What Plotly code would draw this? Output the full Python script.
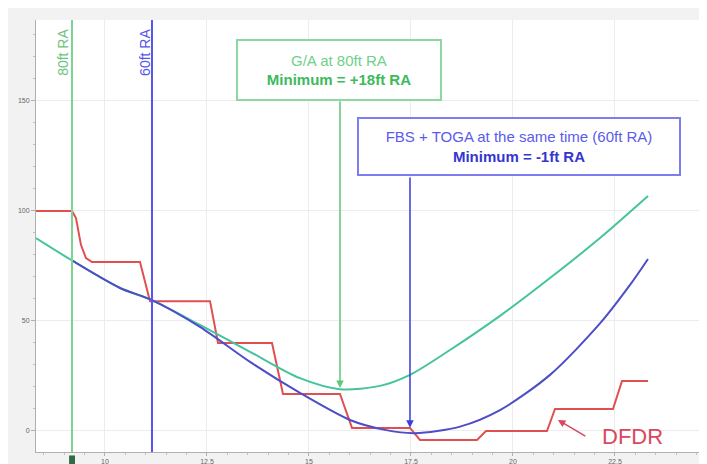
import plotly.graph_objects as go

# ---- data ----
ga80_x = [8.309, 9.191, 10.368, 11.152, 12.328, 13.554, 14.779, 15.760, 16.740,
          17.475, 18.456, 19.681, 20.907, 22.132, 23.309]
ga80_y = [87.7, 77.5, 65.0, 59.5, 48.2, 36.0, 24.0, 19.0, 20.5,
          25.5, 36.8, 52.3, 69.5, 87.7, 106.8]

fbs_x = [9.191, 10.368, 11.152, 12.328, 13.554, 14.779, 16.005, 16.863, 17.598,
         18.701, 19.681, 20.907, 22.132, 22.868, 23.309]
fbs_y = [77.5, 65.0, 59.5, 47.3, 31.4, 17.3, 5.0, 0.5, -1.0,
         2.0, 9.5, 25.5, 48.9, 66.4, 78.2]

dfdr_x = [8.309, 9.191, 9.289, 9.412, 9.534, 9.681, 10.858, 11.103, 12.574, 12.770,
          14.093, 14.363, 15.760, 16.054, 17.475, 17.721, 19.118, 19.338, 20.833,
          21.029, 22.451, 22.672, 23.309]
dfdr_y = [100, 100, 96.8, 84.5, 78.6, 76.8, 76.8, 59.0, 59.0, 40.0,
          40.0, 16.8, 16.8, 1.4, 1.4, -4.1, -4.1, 0, 0,
          10.0, 10.0, 22.7, 22.7]

ra80_x = 9.191
ra60_x = 11.152
ga80_min = (15.76, 19.5)
fbs_min = (17.475, 1.5)

x_tickvals = [7.5, 10, 12.5, 15, 17.5, 20, 22.5, 25]
x_ticktext = ["7.5", "10", "12.5", "15", "17.5", "20", "22.5", "25"]
y_tickvals = [0, 50, 100, 150]
y_ticktext = ["0", "50", "100", "150"]

FONT = "Liberation Sans, Arial, sans-serif"
TEAL = "#45c49c"
BLUE = "#4d4dc8"
RED = "#e05050"
GREEN_V = "#7dd38f"
BLUE_V = "#5656ee"

fig = go.Figure()
fig.add_trace(go.Scatter(x=dfdr_x, y=dfdr_y, mode="lines", line=dict(color=RED, width=2), name="DFDR"))
fig.add_trace(go.Scatter(x=ga80_x, y=ga80_y, mode="lines", line=dict(color=TEAL, width=2, shape="spline", smoothing=0.8), name="G/A 80ft"))
fig.add_trace(go.Scatter(x=fbs_x, y=fbs_y, mode="lines", line=dict(color=BLUE, width=2, shape="spline", smoothing=0.8), name="FBS+TOGA 60ft"))

# vertical RA lines
fig.add_shape(type="line", xref="x", yref="paper", x0=ra80_x, x1=ra80_x, y0=0, y1=1,
              line=dict(color=GREEN_V, width=2))
fig.add_shape(type="line", xref="x", yref="paper", x0=ra60_x, x1=ra60_x, y0=0, y1=1,
              line=dict(color=BLUE_V, width=2))
# small marker on x axis
fig.add_shape(type="rect", xref="x", yref="paper", x0=9.12, x1=9.265, y0=-0.03, y1=-0.008,
              fillcolor="#2f6b45", line=dict(width=0))

ann = []
ann.append(dict(x=8.97, y=172.3, xref="x", yref="y", text="80ft RA", showarrow=False,
                textangle=-90, font=dict(family=FONT, size=14, color="#6cc47e")))
ann.append(dict(x=10.98, y=172.3, xref="x", yref="y", text="60ft RA", showarrow=False,
                textangle=-90, font=dict(family=FONT, size=14, color=BLUE_V)))

# arrows
ann.append(dict(x=ga80_min[0], y=ga80_min[1], ax=ga80_min[0], ay=150.5, xref="x", yref="y",
                axref="x", ayref="y", text="", showarrow=True, arrowhead=2, arrowsize=1,
                arrowwidth=1.5, arrowcolor="#5cc878"))
ann.append(dict(x=fbs_min[0], y=fbs_min[1], ax=fbs_min[0], ay=115.9, xref="x", yref="y",
                axref="x", ayref="y", text="", showarrow=True, arrowhead=2, arrowsize=1,
                arrowwidth=1.5, arrowcolor="#3d3de0"))
ann.append(dict(x=21.10, y=5.0, ax=21.81, ay=-2.7, xref="x", yref="y",
                axref="x", ayref="y", text="", showarrow=True, arrowhead=2, arrowsize=1,
                arrowwidth=1.5, arrowcolor="#d9485e"))

# boxes
ann.append(dict(x=15.735, y=164.1, xref="x", yref="y", showarrow=False,
                text="<span style='color:#6fcf8c'>G/A at 80ft RA</span><br><b style='color:#3cba5c'>Minimum = +18ft RA</b>",
                font=dict(family=FONT, size=15), bgcolor="white", bordercolor="#8ad9a2",
                borderwidth=2, borderpad=2, width=198, height=54))
ann.append(dict(x=20.147, y=129.1, xref="x", yref="y", showarrow=False,
                text="<span style='color:#5b5bea'>FBS + TOGA at the same time (60ft RA)</span><br><b style='color:#3535cf'>Minimum = -1ft RA</b>",
                font=dict(family=FONT, size=15), bgcolor="white", bordercolor="#7d7df0",
                borderwidth=2, borderpad=2, width=316, height=51))

ann.append(dict(x=22.94, y=-2.7, xref="x", yref="y", text="DFDR", showarrow=False,
                font=dict(family=FONT, size=22, color="#d9485e")))

# the page body adds an 8px offset; margins compensate for it
fig.update_layout(
    width=707, height=464,
    margin=dict(l=28, r=12, t=12, b=20),
    paper_bgcolor="#f2f2f2", plot_bgcolor="white",
    showlegend=False,
    annotations=ann,
    font=dict(family=FONT),
)
fig.update_xaxes(range=[8.309, 24.657], tickvals=x_tickvals, ticktext=x_ticktext,
                 automargin=False,
                 showgrid=True, gridcolor="#ececec", gridwidth=1, zeroline=False,
                 showline=True, linecolor="#b0b0b0", linewidth=1,
                 ticks="outside", ticklen=3, tickcolor="#b0b0b0",
                 tickfont=dict(size=7, color="#666"),
                 minor=dict(dtick=0.5, ticks="outside", ticklen=2, tickcolor="#c0c0c0", showgrid=False))
fig.update_yaxes(range=[-9.55, 186.8], tickvals=y_tickvals, ticktext=y_ticktext,
                 automargin=False,
                 showgrid=True, gridcolor="#ececec", gridwidth=1, zeroline=False,
                 showline=True, linecolor="#b0b0b0", linewidth=1,
                 ticks="outside", ticklen=4, tickcolor="#b0b0b0",
                 tickfont=dict(size=7, color="#666"),
                 minor=dict(dtick=10, ticks="outside", ticklen=2, tickcolor="#c0c0c0", showgrid=False))

fig.write_html("out.html")
